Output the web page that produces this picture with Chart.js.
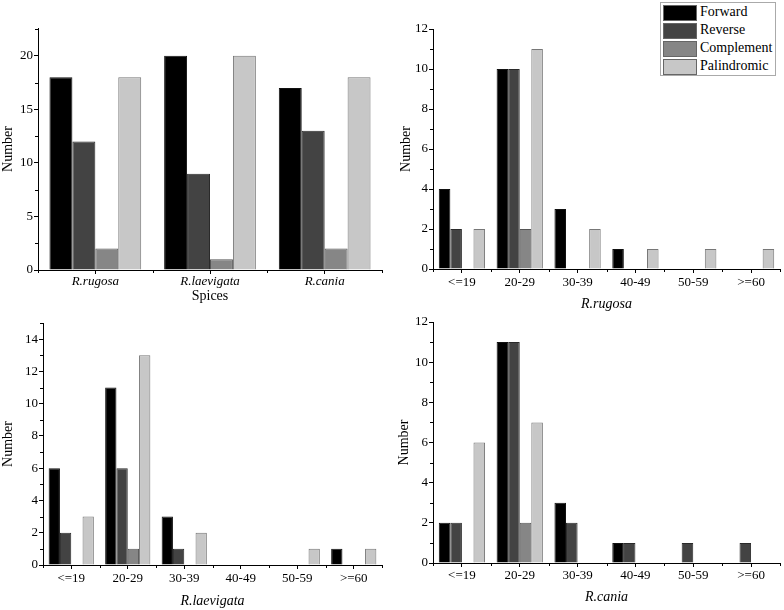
<!DOCTYPE html>
<html>
<head>
<meta charset="utf-8">
<script src="https://cdn.jsdelivr.net/npm/chart.js@4.4.0/dist/chart.umd.min.js"></script>
<style>
  html, body { margin: 0; padding: 0; background: #fff; }
  #wrap { position: relative; width: 784px; height: 610px; overflow: hidden; }
  canvas { position: absolute; left: 0; top: 0; }
  #legend { position: absolute; left: 660px; top: 2px; width: 114px; height: 72px; border: 1px solid #aaa; background: #fff; font-family: 'Liberation Serif', serif; font-size: 14px; color: #000; }
  .li { position: absolute; left: 2px; height: 15px; }
  .sw { position: absolute; left: 0; top: 0; width: 32px; height: 14px; border: 1px solid #666; }
  .lt { position: absolute; left: 37px; top: -2px; line-height: 18px; white-space: nowrap; }
</style>
</head>
<body>
<div id="wrap">
  <canvas id="c1" width="784" height="610"></canvas>
  <canvas id="c2" width="784" height="610"></canvas>
  <canvas id="c3" width="784" height="610"></canvas>
  <canvas id="c4" width="784" height="610"></canvas>
  <div id="legend"></div>
</div>
<script>
// ---- data ----
const speciesCats = ['R.rugosa', 'R.laevigata', 'R.cania'];
const lengthCats = ['<=19', '20-29', '30-39', '40-49', '50-59', '>=60'];
const seriesNames = ['Forward', 'Reverse', 'Complement', 'Palindromic'];

const speciesForward     = [18, 20, 17];
const speciesReverse     = [12, 9, 13];
const speciesComplement  = [2, 1, 2];
const speciesPalindromic = [18, 20, 18];

const rugosaForward     = [4, 10, 3, 1, 0, 0];
const rugosaReverse     = [2, 10, 0, 0, 0, 0];
const rugosaComplement  = [0, 2, 0, 0, 0, 0];
const rugosaPalindromic = [2, 11, 2, 1, 1, 1];

const laevigataForward     = [6, 11, 3, 0, 0, 1];
const laevigataReverse     = [2, 6, 1, 0, 0, 0];
const laevigataComplement  = [0, 1, 0, 0, 0, 0];
const laevigataPalindromic = [3, 13, 2, 0, 1, 1];

const caniaForward     = [2, 11, 3, 1, 0, 0];
const caniaReverse     = [2, 11, 2, 1, 1, 1];
const caniaComplement  = [0, 2, 0, 0, 0, 0];
const caniaPalindromic = [6, 7, 0, 0, 0, 0];

// ---- styles ----
const fills   = ['#000000', '#434343', '#868686', '#c7c7c7'];
const borders = ['#111111', '#2a2a2a', '#555555', '#777777'];
const FONT = "'Liberation Serif', 'Times New Roman', serif";

// legend (real text)
const legend = document.getElementById('legend');
seriesNames.forEach((n, i) => {
  const d = document.createElement('div');
  d.className = 'li';
  d.style.top = (2 + i * 18) + 'px';
  d.innerHTML = '<div class="sw" style="background:' + fills[i] + '"></div><div class="lt">' + n + '</div>';
  legend.appendChild(d);
});

// minor ticks plugin (uses the chart's own scales)
const minorTicks = {
  id: 'minorTicks',
  afterDraw(chart, args, opts) {
    const ctx = chart.ctx, y = chart.scales.y, x = chart.scales.x;
    ctx.save();
    ctx.strokeStyle = '#000';
    ctx.lineWidth = 1;
    ctx.beginPath();
    for (let v = opts.step / 2; v <= y.max + 1e-9; v += opts.step) {
      if (Math.abs(v / opts.step - Math.round(v / opts.step)) < 1e-6) continue;
      const py = Math.round(y.getPixelForValue(v)) + 0.5;
      ctx.moveTo(y.right - 3, py); ctx.lineTo(y.right, py);
    }
    const n = x.getLabels().length;
    for (let i = 0; i <= n; i++) {
      const px = Math.round(x.getPixelForValue(i - 0.5)) + 0.5;
      ctx.moveTo(px, x.top); ctx.lineTo(px, x.top + 3);
    }
    ctx.stroke();
    ctx.restore();
  }
};

function makeChart(id, cats, vals, cfg) {
  const datasets = seriesNames.map((n, i) => ({
    label: n,
    data: vals[i],
    backgroundColor: fills[i],
    borderColor: borders[i],
    borderWidth: 1,
    borderSkipped: 'start',
    categoryPercentage: 0.8,
    barPercentage: 1.0
  }));
  return new Chart(document.getElementById(id), {
    type: 'bar',
    data: { labels: cats, datasets },
    plugins: [minorTicks],
    options: {
      responsive: false,
      animation: false,
      devicePixelRatio: 1,
      layout: { padding: cfg.pad },
      plugins: {
        legend: { display: false },
        tooltip: { enabled: false },
        minorTicks: { step: cfg.step }
      },
      scales: {
        x: {
          offset: true,
          grid: { display: true, drawOnChartArea: false, offset: false, tickLength: 4, color: '#000', tickColor: '#000' },
          border: { display: true, color: '#000', width: 1 },
          ticks: { color: '#000', padding: cfg.tp, font: { family: FONT, size: 13, style: cfg.tickItalic ? 'italic' : 'normal' }, maxRotation: 0, autoSkip: false },
          title: { display: true, text: cfg.xTitle, color: '#000', padding: 0, font: { family: FONT, size: 14, style: cfg.titleItalic ? 'italic' : 'normal' } },
          afterFit: s => { s.height = cfg.xh; }
        },
        y: {
          min: 0, max: cfg.max,
          ticks: { stepSize: cfg.step, color: '#000', padding: 1, font: { family: FONT, size: 13 } },
          afterBuildTicks: s => { s.ticks = s.ticks.filter(t => Math.abs(t.value / cfg.step - Math.round(t.value / cfg.step)) < 1e-6); },
          grid: { display: true, drawOnChartArea: false, tickLength: 4, color: '#000', tickColor: '#000' },
          border: { display: true, color: '#000', width: 1 },
          title: { display: true, text: 'Number', color: '#000', padding: 0, font: { family: FONT, size: 14 } },
          afterFit: s => { s.width = cfg.yw; }
        }
      }
    }
  });
}

makeChart('c1', speciesCats, [speciesForward, speciesReverse, speciesComplement, speciesPalindromic], {
  pad: { left: 0, top: 28, right: 402, bottom: 305 }, yw: 38, xh: 35, max: 22.6, step: 5, tp: 0,
  xTitle: 'Spices', tickItalic: true, titleItalic: false
});
makeChart('c2', lengthCats, [rugosaForward, rugosaReverse, rugosaComplement, rugosaPalindromic], {
  pad: { left: 398, top: 29, right: 4, bottom: 297 }, yw: 35, xh: 44, max: 12, step: 2, tp: 2,
  xTitle: 'R.rugosa', tickItalic: false, titleItalic: true
});
makeChart('c3', lengthCats, [laevigataForward, laevigataReverse, laevigataComplement, laevigataPalindromic], {
  pad: { left: 0, top: 323, right: 402, bottom: 0 }, yw: 43, xh: 45, max: 15, step: 2, tp: 2,
  xTitle: 'R.laevigata', tickItalic: false, titleItalic: true
});
makeChart('c4', lengthCats, [caniaForward, caniaReverse, caniaComplement, caniaPalindromic], {
  pad: { left: 396, top: 322, right: 4, bottom: 4 }, yw: 37, xh: 43, max: 12, step: 2, tp: 1,
  xTitle: 'R.cania', tickItalic: false, titleItalic: true
});
</script>
</body>
</html>
